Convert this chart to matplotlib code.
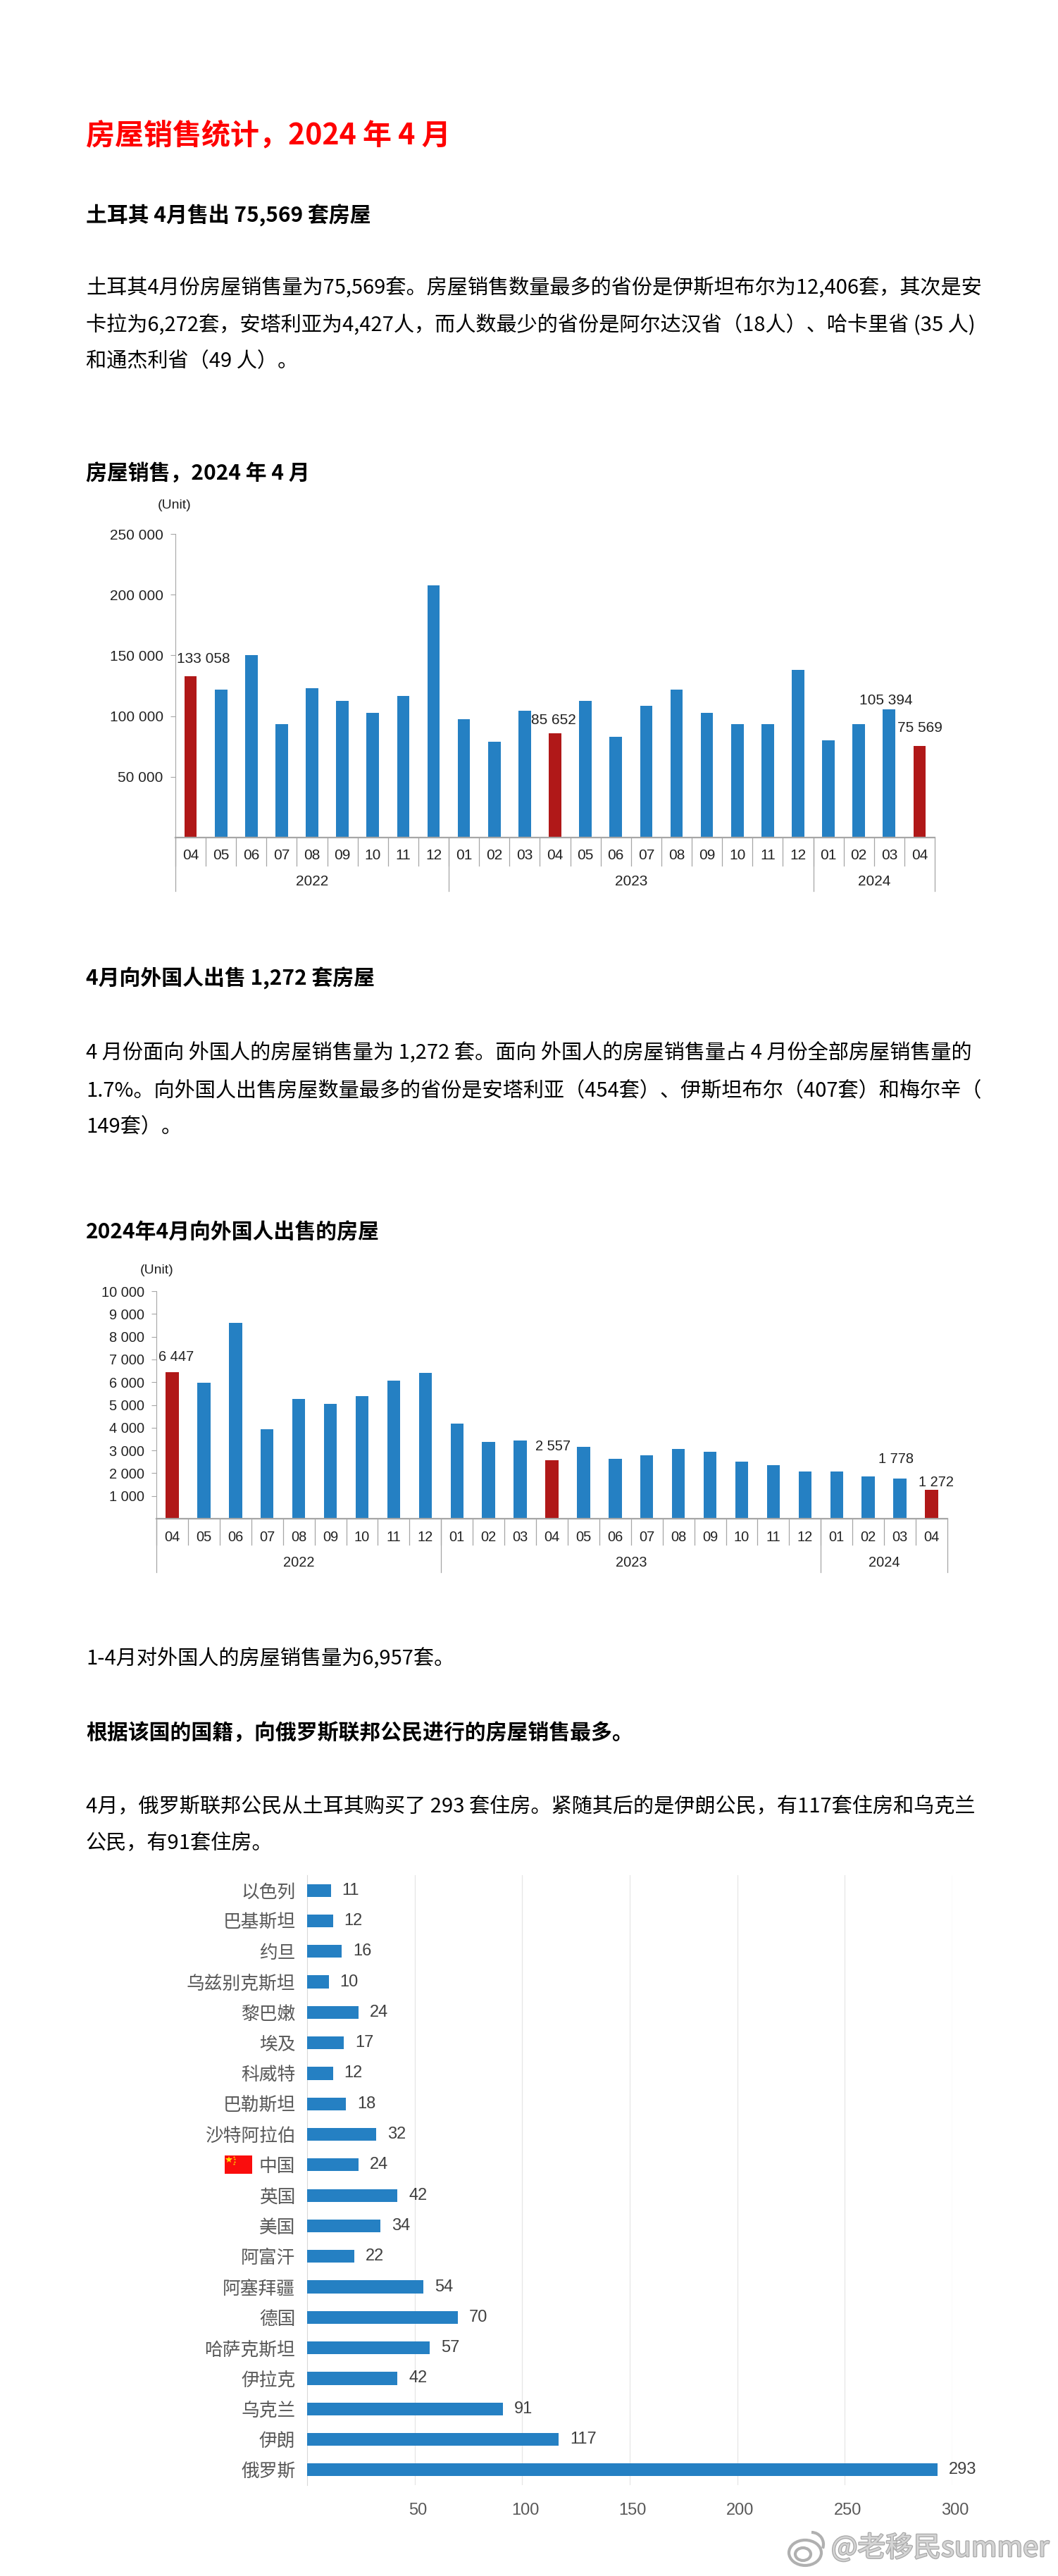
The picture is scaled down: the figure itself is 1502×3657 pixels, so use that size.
import matplotlib
matplotlib.use("Agg")
import matplotlib.pyplot as plt
from matplotlib.patches import Rectangle, Ellipse, Arc
import matplotlib.patheffects as pe
from matplotlib.transforms import blended_transform_factory, ScaledTranslation

W, H = 1502, 3657
CJK = ['Noto Sans CJK SC', 'DejaVu Sans']
plt.rcParams['font.family'] = CJK

months = ['04', '05', '06', '07', '08', '09', '10', '11', '12',
          '01', '02', '03', '04', '05', '06', '07', '08', '09', '10', '11', '12',
          '01', '02', '03', '04']
years = ['2022', '2023', '2024']
year_counts = [9, 12, 4]

sales = [133058, 122000, 150500, 93200, 122900, 112600, 102600, 116600, 207600,
         97500, 79000, 104600, 85652, 112600, 83000, 108600, 122000, 102600, 93200, 93200, 138300,
         79800, 93200, 105394, 75569]
sales_labels = {0: '133 058', 12: '85 652', 23: '105 394', 24: '75 569'}
sales_ticks = [50000, 100000, 150000, 200000, 250000]

foreign = [6447, 5970, 8610, 3920, 5270, 5050, 5380, 6070, 6400,
           4190, 3370, 3430, 2557, 3150, 2620, 2780, 3050, 2940, 2515, 2350, 2070,
           2070, 1860, 1778, 1272]
foreign_labels = {0: '6 447', 12: '2 557', 23: '1 778', 24: '1 272'}
foreign_ticks = [1000, 2000, 3000, 4000, 5000, 6000, 7000, 8000, 9000, 10000]

red_idx = [0, 12, 24]

countries = ['以色列', '巴基斯坦', '约旦', '乌兹别克斯坦', '黎巴嫩', '埃及', '科威特', '巴勒斯坦', '沙特阿拉伯', '中国',
             '英国', '美国', '阿富汗', '阿塞拜疆', '德国', '哈萨克斯坦', '伊拉克', '乌克兰', '伊朗', '俄罗斯']
buyers = [11, 12, 16, 10, 24, 17, 12, 18, 32, 24, 42, 34, 22, 54, 70, 57, 42, 91, 117, 293]
buyer_ticks = [50, 100, 150, 200, 250, 300]

BLUE = '#2580c3'
RED = '#b01818'
GREY = '#a6a6a6'

fig = plt.figure(figsize=(W / 100, H / 100), dpi=100, facecolor='white')


def px_axes(left, top, right, bottom):
    return fig.add_axes([left / W, 1 - bottom / H, (right - left) / W, (bottom - top) / H])


def line(y, s, size=21, color='black', bold=False):
    fig.text(122 / W, 1 - y / H, s, fontsize=size, color=color, va='center', ha='left',
             fontweight='bold' if bold else 'normal', family=CJK)


def space_fmt(v):
    return f'{v:,}'.replace(',', ' ')


def month_chart(left, top, right, bottom, values, ticks, ymax, labels, offsets, fsize, month_y, year_y, tick_end, year_end):
    ax = px_axes(left, top, right, bottom)
    colors = [RED if i in red_idx else BLUE for i in range(len(values))]
    ax.bar(range(len(values)), values, width=0.41, color=colors)
    ax.set_xlim(-0.5, len(values) - 0.5)
    ax.set_ylim(0, ymax)
    for s in ['top', 'right']:
        ax.spines[s].set_visible(False)
    ax.spines['left'].set_color(GREY)
    ax.spines['bottom'].set_color(GREY)
    ax.spines['bottom'].set_linewidth(1.6)
    ax.set_yticks(ticks)
    ax.set_yticklabels([space_fmt(t) for t in ticks], fontsize=fsize, family='Liberation Sans', color='#222222')
    ax.tick_params(axis='y', length=5, color=GREY, pad=7.5)
    ax.set_xticks([])
    tr = blended_transform_factory(ax.transData, ax.transAxes)
    h = bottom - top
    for i, m in enumerate(months):
        ax.text(i, -(month_y - bottom) / h, m, transform=tr, ha='center', va='center',
                fontsize=fsize, family='Liberation Sans', color='#222222')
        ax.plot([i - 0.5, i - 0.5], [0, -(tick_end - bottom) / h], transform=tr, color=GREY, lw=0.9, clip_on=False)
    ax.plot([len(values) - 0.5] * 2, [0, -(year_end - bottom) / h], transform=tr, color=GREY, lw=0.9, clip_on=False)
    start = 0
    for y, n in zip(years, year_counts):
        ax.plot([start - 0.5] * 2, [0, -(year_end - bottom) / h], transform=tr, color=GREY, lw=0.9, clip_on=False)
        ax.text(start + (n - 1) / 2, -(year_y - bottom) / h, y, transform=tr, ha='center', va='center',
                fontsize=fsize, family='Liberation Sans', color='#222222')
        start += n
    for i, s in labels.items():
        dx, dy = offsets[i]
        ax.annotate(s, (i, values[i]), xytext=(dx, dy), textcoords='offset pixels', ha='center', va='center',
                    fontsize=fsize, family='Liberation Sans', color='#222222')
    return ax


# page text
line(192, '房屋销售统计，2024 年 4 月', size=29.5, color='#ff0000', bold=True)
line(306, '土耳其 4月售出 75,569 套房屋', size=21.5, bold=True)
line(410, '土耳其4月份房屋销售量为75,569套。房屋销售数量最多的省份是伊斯坦布尔为12,406套，其次是安')
line(462, '卡拉为6,272套，安塔利亚为4,427人，而人数最少的省份是阿尔达汉省（18人）、哈卡里省 (35 人)')
line(513, '和通杰利省（49 人）。')
line(672, '房屋销售，2024 年 4 月', size=21.5, bold=True)
line(1389, '4月向外国人出售 1,272 套房屋', size=21.5, bold=True)
line(1494, '4 月份面向 外国人的房屋销售量为 1,272 套。面向 外国人的房屋销售量占 4 月份全部房屋销售量的')
line(1549, '1.7%。向外国人出售房屋数量最多的省份是安塔利亚（454套）、伊斯坦布尔（407套）和梅尔辛（')
line(1600, '149套）。')
line(1750, '2024年4月向外国人出售的房屋', size=21.5, bold=True)
line(2355, '1-4月对外国人的房屋销售量为6,957套。')
line(2460, '根据该国的国籍，向俄罗斯联邦公民进行的房屋销售最多。', size=21.5, bold=True)
line(2565, '4月，俄罗斯联邦公民从土耳其购买了 293 套住房。紧随其后的是伊朗公民，有117套住房和乌克兰')
line(2617, '公民，有91套住房。')

# monthly charts
month_chart(249, 758, 1327, 1189, sales, sales_ticks, 250000, sales_labels,
            {0: (18, 24), 12: (-2, 19), 23: (-5, 13), 24: (0, 25)}, 15, 1214, 1251, 1229, 1265)
fig.text(248 / W, 1 - 717 / H, '(Unit)', fontsize=14, family='Liberation Sans', color='#222222', va='center', ha='center')

month_chart(222, 1833, 1345, 2156, foreign, foreign_ticks, 10000, foreign_labels,
            {0: (6, 21), 12: (1, 20), 23: (-6, 27), 24: (6, 10)}, 14.4, 2182, 2219, 2193, 2232)
fig.text(223 / W, 1 - 1804 / H, '(Unit)', fontsize=14, family='Liberation Sans', color='#222222', va='center', ha='center')

# nationality chart
ax3 = px_axes(436, 2662, 1352, 3528)
ypos = range(len(buyers))
ax3.barh(ypos, buyers, height=0.42, color=BLUE, zorder=3)
ax3.set_xlim(0, 300)
ax3.set_ylim(len(buyers) - 0.5, -0.5)
for s in ['top', 'right', 'bottom']:
    ax3.spines[s].set_visible(False)
ax3.spines['left'].set_color('#d9d9d9')
ax3.set_xticks(buyer_ticks)
ax3.set_xticklabels(buyer_ticks, fontsize=17, family='Liberation Sans', color='#595959')
ax3.set_yticks(list(ypos))
ax3.set_yticklabels(countries, fontsize=18.5, color='#595959', family=CJK)
ax3.tick_params(axis='both', length=0)
ax3.tick_params(axis='x', pad=18)
ax3.tick_params(axis='y', pad=12)
ax3.grid(axis='x', color='#e6e6e6', lw=0.9, zorder=0)
shift = ScaledTranslation(3 / 72, 0, fig.dpi_scale_trans)
for lbl in ax3.get_xticklabels():
    lbl.set_transform(lbl.get_transform() + shift)
for i, v in enumerate(buyers):
    ax3.annotate(str(v), (v, i), xytext=(16, 0), textcoords='offset pixels', va='center', ha='left',
                 fontsize=17, family='Liberation Sans', color='#404040')

# flag next to 中国 and watermark, drawn in page pixels
over = fig.add_axes([0, 0, 1, 1], facecolor='none')
over.set_xlim(0, W)
over.set_ylim(H, 0)
over.axis('off')
over.add_patch(Rectangle((319, 3060), 39, 26, color='#fa0d0d', lw=0))
over.plot([325], [3066], marker='*', ms=7, color='#ffe000', mew=0)
over.plot([332, 333, 333, 332], [3062, 3065, 3069, 3072], ls='', marker='*', ms=2.5, color='#ffe000', mew=0)

wm = [pe.withStroke(linewidth=1.8, foreground='#a8a8a8')]
over.text(1180, 3618, '@老移民summer', fontsize=28.5, color='#d4d4d4', va='center', ha='left', family=CJK, path_effects=wm)
over.add_patch(Ellipse((1143, 3624), 46, 36, fc='white', ec='#b0b0b0', lw=3))
over.add_patch(Ellipse((1140, 3626), 22, 18, fc='white', ec='#b0b0b0', lw=3))
over.add_patch(Arc((1152, 3612), 34, 34, theta1=270, theta2=20, ec='#b0b0b0', lw=3))

fig.savefig('out.png', dpi=100)
